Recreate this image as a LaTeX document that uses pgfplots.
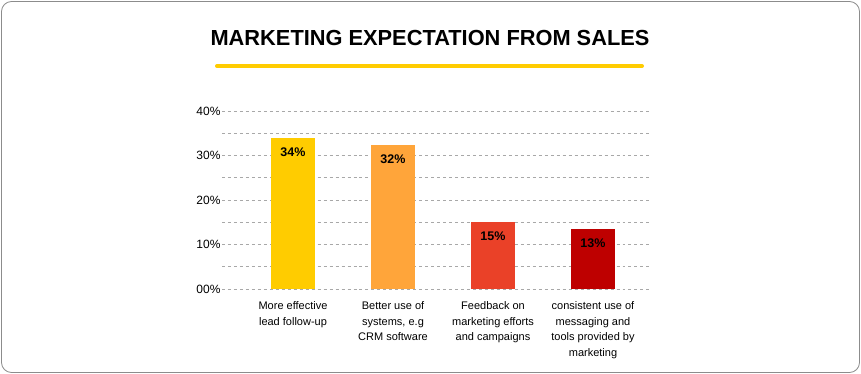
\documentclass[border=0pt]{standalone}
\usepackage{pgfplots}
\pgfplotsset{compat=1.18}
\usepackage{fontspec}
\setmainfont{Liberation Sans}
\definecolor{cA}{HTML}{FFCC00}
\definecolor{cB}{HTML}{FFA53A}
\definecolor{cC}{HTML}{EA4128}
\definecolor{cD}{HTML}{BE0000}
\definecolor{gridc}{HTML}{A8A8A8}
\begin{document}
\begin{tikzpicture}
\path[use as bounding box] (0bp,0bp) rectangle (861bp,-374bp);
\draw[rounded corners=10bp, draw=black!45, line width=0.8bp, fill=white] (1.5bp,-1.5bp) rectangle (859.5bp,-372.5bp);
\node[font=\fontsize{21.8bp}{25bp}\selectfont\bfseries] at (430bp,-38bp) {MARKETING EXPECTATION FROM SALES};
\draw[cA, line width=4bp, line cap=round] (217bp,-66bp) -- (642bp,-66bp);
\begin{axis}[
  at={(222bp,-289bp)}, anchor=south west,
  scale only axis, width=428bp, height=178bp,
  xmin=-0.71, xmax=3.57, ymin=0, ymax=40,
  axis line style={draw=none}, tick style={draw=none},
  ytick={0,5,...,40},
  yticklabels={00\%,,10\%,,20\%,,30\%,,40\%},
  ymajorgrids, grid style={gridc, dashed, line width=0.6bp},
  xtick={0,1,2,3},
  xticklabels={{More effective\\lead follow-up}, {Better use of\\systems, e.g\\CRM software}, {Feedback on\\marketing efforts\\and campaigns}, {consistent use of\\messaging and\\tools provided by\\marketing}},
  xticklabel style={align=center, font=\fontsize{11bp}{15.5bp}\selectfont, anchor=north, yshift=-5bp},
  yticklabel style={font=\fontsize{12bp}{14bp}\selectfont, xshift=2bp},
  /pgf/number format/assume math mode=true,
  ybar, bar width=44bp, bar shift=0pt,
  every node near coord/.append style={font=\fontsize{12.5bp}{14bp}\selectfont\bfseries, anchor=center, yshift=-14bp},
  clip=false,
]
\addplot[draw=none, fill=cA, nodes near coords={34\%}] coordinates {(0,34)};
\addplot[draw=none, fill=cB, nodes near coords={32\%}] coordinates {(1,32.3)};
\addplot[draw=none, fill=cC, nodes near coords={15\%}] coordinates {(2,15.1)};
\addplot[draw=none, fill=cD, nodes near coords={13\%}] coordinates {(3,13.5)};
\end{axis}
\end{tikzpicture}
\end{document}
